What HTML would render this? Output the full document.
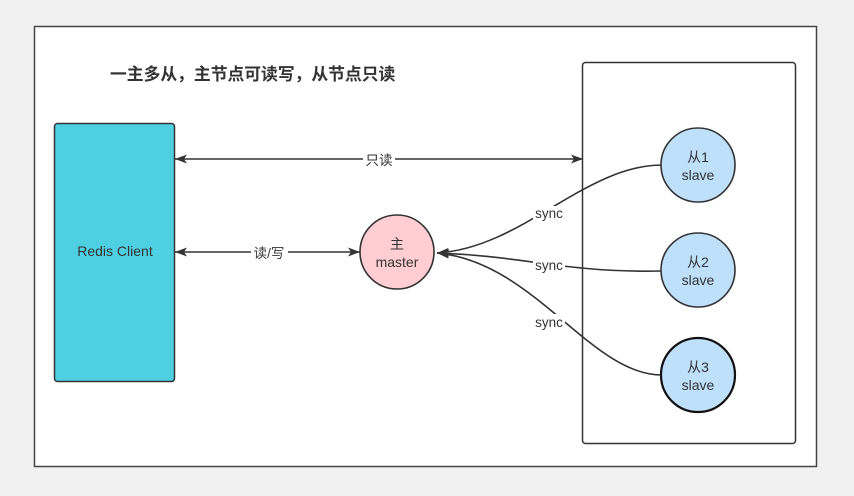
<!DOCTYPE html>
<html><head><meta charset="utf-8"><style>
html,body{margin:0;padding:0;background:#f1f1f1;}
svg{display:block;}
text{font-family:"Liberation Sans","Noto Sans CJK SC",sans-serif;fill:#333;}
</style></head><body>
<svg width="854" height="496" viewBox="0 0 854 496" xmlns="http://www.w3.org/2000/svg">
<defs>
<marker id="ah" viewBox="0 0 12 10" refX="12" refY="5" markerWidth="12" markerHeight="10" markerUnits="userSpaceOnUse" orient="auto-start-reverse">
<path d="M0,0.5 L12,5 L0,9.5 L3,5 Z" fill="#333"/>
</marker>
</defs>
<rect x="0" y="0" width="854" height="496" fill="#f1f1f1"/>
<rect x="34.5" y="26.5" width="782" height="440" fill="#fff" stroke="#444" stroke-width="1.5"/>
<text x="110" y="80" font-size="16.8" font-weight="bold">一主多从，主节点可读写，从节点只读</text>
<rect x="54.5" y="123.5" width="120" height="258" rx="3" fill="#4fd0e2" stroke="#333" stroke-width="1.5"/>
<text x="115" y="256" font-size="14" text-anchor="middle">Redis Client</text>
<rect x="582.5" y="62.5" width="213" height="381" rx="3" fill="#fff" stroke="#333" stroke-width="1.5"/>
<!-- top arrow -->
<line x1="175" y1="159" x2="583" y2="159" stroke="#333" stroke-width="1.6" marker-start="url(#ah)" marker-end="url(#ah)"/>
<rect x="363" y="151" width="32" height="17" fill="#fff"/>
<text x="379" y="165" font-size="13.5" text-anchor="middle">只读</text>
<!-- read/write arrow -->
<line x1="175" y1="252" x2="360" y2="252" stroke="#333" stroke-width="1.6" marker-start="url(#ah)" marker-end="url(#ah)"/>
<rect x="251" y="244" width="37" height="17" fill="#fff"/>
<text x="269" y="258" font-size="13.5" text-anchor="middle">读/写</text>
<!-- sync curves -->
<path d="M662,165 C585,165 522,248 437,253" fill="none" stroke="#333" stroke-width="1.6" marker-end="url(#ah)"/>
<path d="M662,271 C565,273 525,256 437,253" fill="none" stroke="#333" stroke-width="1.6" marker-end="url(#ah)"/>
<path d="M662,375 C590,375 535,262 437,253" fill="none" stroke="#333" stroke-width="1.6" marker-end="url(#ah)"/>
<rect x="533" y="206" width="32" height="16" fill="#fff"/>
<text x="549" y="218" font-size="13.5" text-anchor="middle">sync</text>
<rect x="533" y="258" width="32" height="16" fill="#fff"/>
<text x="549" y="270" font-size="13.5" text-anchor="middle">sync</text>
<rect x="533" y="314" width="32" height="16" fill="#fff"/>
<text x="549" y="327" font-size="13.5" text-anchor="middle">sync</text>
<!-- master -->
<circle cx="397" cy="252" r="37" fill="#ffcdd2" stroke="#333" stroke-width="1.6"/>
<text x="397" y="249" font-size="14" text-anchor="middle">主</text>
<text x="397" y="267" font-size="14" text-anchor="middle">master</text>
<!-- slaves -->
<circle cx="698" cy="165" r="37" fill="#bfe0fa" stroke="#333" stroke-width="1.6"/>
<text x="698" y="162" font-size="14" text-anchor="middle">从1</text>
<text x="698" y="180" font-size="14" text-anchor="middle">slave</text>
<circle cx="698" cy="270" r="37" fill="#bfe0fa" stroke="#333" stroke-width="1.6"/>
<text x="698" y="267" font-size="14" text-anchor="middle">从2</text>
<text x="698" y="285" font-size="14" text-anchor="middle">slave</text>
<circle cx="698" cy="375" r="37" fill="#bfe0fa" stroke="#111" stroke-width="2.2"/>
<text x="698" y="372" font-size="14" text-anchor="middle">从3</text>
<text x="698" y="390" font-size="14" text-anchor="middle">slave</text>
</svg>
</body></html>
